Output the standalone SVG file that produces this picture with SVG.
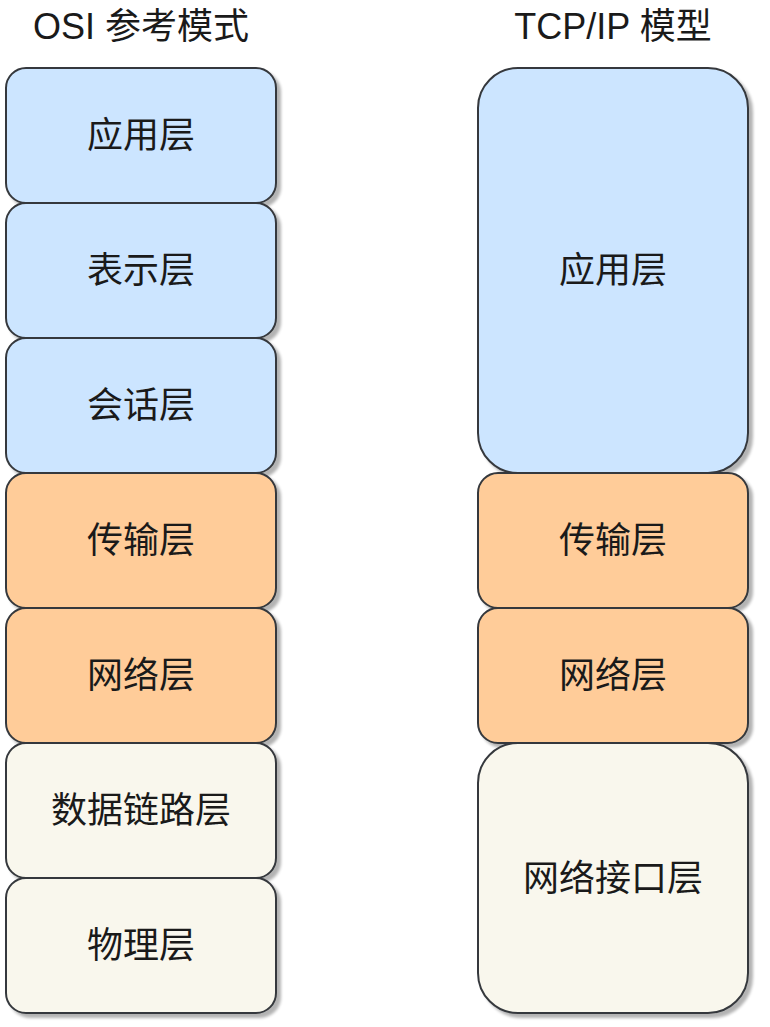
<svg xmlns="http://www.w3.org/2000/svg" width="770" height="1027" viewBox="0 0 770 1027">
<defs>
<filter id="sh" x="-10%" y="-10%" width="130%" height="130%">
<feGaussianBlur in="SourceAlpha" stdDeviation="1.5"/>
<feOffset dx="4" dy="4" result="b"/>
<feComponentTransfer><feFuncA type="linear" slope="0.3"/></feComponentTransfer>
<feMerge><feMergeNode/><feMergeNode in="SourceGraphic"/></feMerge>
</filter>
</defs>
<style>
.box{stroke:#36393d;stroke-width:2;filter:url(#sh)}
.blue{fill:#cce5ff}
.orange{fill:#ffcc99}
.beige{fill:#f9f7ed}
.t{font-family:"Liberation Sans","Noto Sans CJK SC",sans-serif;font-size:36px;fill:#1a1a1a;text-anchor:middle;dominant-baseline:central}
.h{font-family:"Liberation Sans","Noto Sans CJK SC",sans-serif;font-size:36px;fill:#1a1a1a;text-anchor:middle}
</style>
<rect width="770" height="1027" fill="#ffffff"/>
<text class="h" x="141" y="39">OSI 参考模式</text>
<text class="h" x="613" y="39">TCP/IP 模型</text>
<g id="osi">
<g id="osi-app"><rect class="box blue" x="6" y="68" width="270" height="135" rx="20"/><text class="t" x="141" y="135.5">应用层</text></g>
<g id="osi-pres"><rect class="box blue" x="6" y="203" width="270" height="135" rx="20"/><text class="t" x="141" y="270.5">表示层</text></g>
<g id="osi-sess"><rect class="box blue" x="6" y="338" width="270" height="135" rx="20"/><text class="t" x="141" y="405.5">会话层</text></g>
<g id="osi-trans"><rect class="box orange" x="6" y="473" width="270" height="135" rx="20"/><text class="t" x="141" y="540.5">传输层</text></g>
<g id="osi-net"><rect class="box orange" x="6" y="608" width="270" height="135" rx="20"/><text class="t" x="141" y="675.5">网络层</text></g>
<g id="osi-link"><rect class="box beige" x="6" y="743" width="270" height="135" rx="20"/><text class="t" x="141" y="810.5">数据链路层</text></g>
<g id="osi-phy"><rect class="box beige" x="6" y="878" width="270" height="135" rx="20"/><text class="t" x="141" y="945.5">物理层</text></g>
</g>
<g id="tcpip">
<g id="tcp-app"><rect class="box blue" x="478" y="68" width="270" height="405" rx="40"/><text class="t" x="613" y="270.5">应用层</text></g>
<g id="tcp-trans"><rect class="box orange" x="478" y="473" width="270" height="135" rx="20"/><text class="t" x="613" y="540.5">传输层</text></g>
<g id="tcp-net"><rect class="box orange" x="478" y="608" width="270" height="135" rx="20"/><text class="t" x="613" y="675.5">网络层</text></g>
<g id="tcp-if"><rect class="box beige" x="478" y="743" width="270" height="270" rx="40"/><text class="t" x="613" y="878">网络接口层</text></g>
</g>
<g id="connectors"/>
</svg>
